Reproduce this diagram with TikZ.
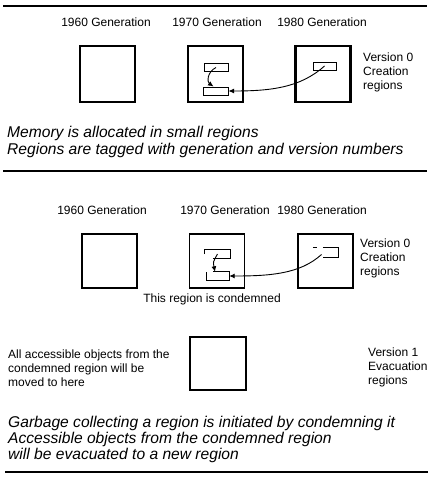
\documentclass[tikz,border=0pt]{standalone}
\usepackage{fontspec}
\setmainfont{Liberation Sans}
\usetikzlibrary{arrows.meta}
\begin{document}
\begin{tikzpicture}[x=1pt,y=-1pt,
  lbl/.style={font=\fontsize{12}{14}\selectfont, inner sep=0pt},
  captext/.style={font=\fontsize{15.6}{17}\selectfont\itshape, inner sep=0pt, anchor=west, align=left},
  side/.style={font=\fontsize{12}{14}\selectfont, inner sep=0pt, anchor=west, align=left},
  region/.style={draw, line width=2.4pt, minimum width=55pt, minimum height=56pt, inner sep=0pt},
  thinregion/.style={draw, line width=1.1pt, minimum width=55pt, minimum height=54pt, inner sep=0pt},
  obj/.style={draw, line width=1pt, minimum width=24pt, minimum height=8pt, inner sep=0pt},
  ghost/.style={minimum width=24pt, minimum height=8pt, inner sep=0pt},
  part/.style={line width=1pt},
  ptr/.style={line width=0.9pt, -{Latex[length=5.5pt,width=5pt]}},
  rulebar/.style={line width=2pt}]
\useasboundingbox (0,0) rectangle (432,479);

% ---------- rules
\draw[rulebar] (3,6) -- (427,6);
\draw[rulebar] (3,171) -- (427,171);
\draw[rulebar] (5,472) -- (428,472);

% ---------- panel 1
\node[lbl] (g1a) at (106,22) {1960 Generation};
\node[lbl] (g1b) at (217,22) {1970 Generation};
\node[lbl] (g1c) at (322,22) {1980 Generation};

\node[region] (r1a) at (107.5,74) {};
\node[region] (r1b) at (215.5,74) {};
\node[region] (r1c) at (323,74) {};

\node[obj] (o1) at (216,67.5) {};
\node[obj, minimum width=25pt] (o2) at (215.5,91) {};
\node[obj, minimum width=23pt] (o3) at (324.5,66) {};

\draw[ptr] (o1.center) .. controls (207,72) and (207,82) .. ([xshift=-2pt]o2.north);
\draw[ptr] (o3.center) .. controls (300,88) and (270,91) .. (o2.east);

\node[side] (v0a) at (363,72) {Version 0\\Creation\\regions};

\node[captext] (c1) at (7,141.5) {Memory is allocated in small regions\\Regions are tagged with generation and version numbers};

% ---------- panel 2
\node[lbl] (g2a) at (102,210) {1960 Generation};
\node[lbl] (g2b) at (225,210) {1970 Generation};
\node[lbl] (g2c) at (322,210) {1980 Generation};

\node[region, minimum height=54pt] (r2a) at (109.5,261) {};
\node[thinregion] (r2b) at (217,261) {};
\node[region, minimum height=54pt] (r2c) at (325.5,261) {};

\node[ghost, minimum width=25pt] (p1) at (217.5,254) {};
\node[ghost, minimum width=22pt] (p2) at (218,276) {};
\node[ghost, minimum width=25pt, minimum height=9pt] (p3) at (325.5,252.5) {};

\draw[part] (p1.west) -- (p1.north west) -- (p1.north east) -- (p1.south east) -- ([xshift=-17pt]p1.south east);
\draw[part] ([xshift=6pt]p2.north west) -- (p2.north east) -- (p2.south east) -- (p2.south west) -- (p2.north west);
\draw[part] (p3.north west) -- ([xshift=4pt]p3.north west);
\draw[part] ([xshift=10pt]p3.north west) -- (p3.north east) -- (p3.south east) -- ([xshift=-15pt]p3.south east);

\draw[ptr] (p1.center) .. controls (213,262) .. ([xshift=-3pt]p2.north);
\draw[ptr] ([xshift=-4pt,yshift=-2pt]p3.center) .. controls (300,274) and (270,276) .. (p2.east);

\node[side] (v0b) at (360,258) {Version 0\\Creation\\regions};

\node[lbl] (cond) at (212,299) {This region is condemned};

% ---------- panel 3
\node[region, minimum width=56pt, minimum height=53pt] (r3) at (218,363.5) {};
\node[side] (acc) at (8,368) {All accessible objects from the\\condemned region will be\\moved to here};
\node[side] (v1) at (368,367) {Version 1\\Evacuation\\regions};

\node[captext, font=\fontsize{15.6}{16}\selectfont\itshape] (c2) at (8,439) {Garbage collecting a region is initiated by condemning it\\Accessible objects from the condemned region\\will be evacuated to a new region};
\end{tikzpicture}
\end{document}
